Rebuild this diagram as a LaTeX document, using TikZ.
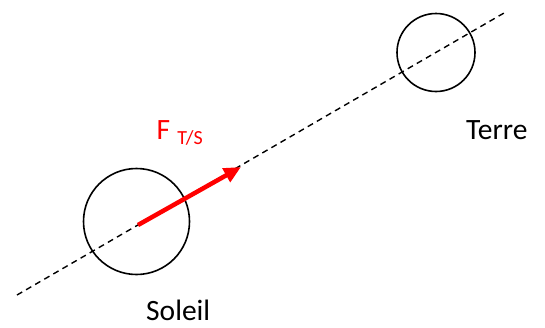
\documentclass[tikz,border=0pt]{standalone}
\usepackage{fontspec}
\setmainfont{Carlito}
\usepackage{xcolor}
\usetikzlibrary{arrows.meta,positioning}
\definecolor{myred}{RGB}{255,0,0}

\begin{document}
\begin{tikzpicture}[
    x=1pt, y=-1pt,
    body/.style={circle, draw, line width=1.6pt, inner sep=0pt},
    axis/.style={dashed, dash pattern=on 6pt off 4.5pt, line width=1.4pt},
    force/.style={-{Triangle[length=17pt,width=15pt]}, myred, line width=4.5pt},
    lbl/.style={font=\fontsize{29.5}{31}\selectfont, inner sep=0pt},
]
    \useasboundingbox (0,0) rectangle (545,327);

    % Sun
    \node[body, minimum size=106pt] (sun) at (136.5,221.5) {};
    % Earth
    \node[body, minimum size=78pt] (earth) at (436,52.5) {};

    % Sun-Earth line
    \coordinate (lstart) at (17,295);
    \coordinate (lend) at (504,13);
    \draw[axis] (lstart) -- (lend);

    % Force
    \coordinate (fbase) at (138,225);
    \coordinate (ftip) at (241,167);
    \draw[force] (fbase) -- (ftip);
    \node[lbl, text=myred, anchor=base west] (flabel) at (156.5,139.3)
        {F\hspace{7pt}\raisebox{-5pt}{\fontsize{20}{21}\selectfont T/S}};

    % Names
    \node[lbl, anchor=base west] (terre) at (466,139.3) {Terre};
    \node[lbl, anchor=base west] (soleil) at (146,320) {Soleil};
\end{tikzpicture}
\end{document}
